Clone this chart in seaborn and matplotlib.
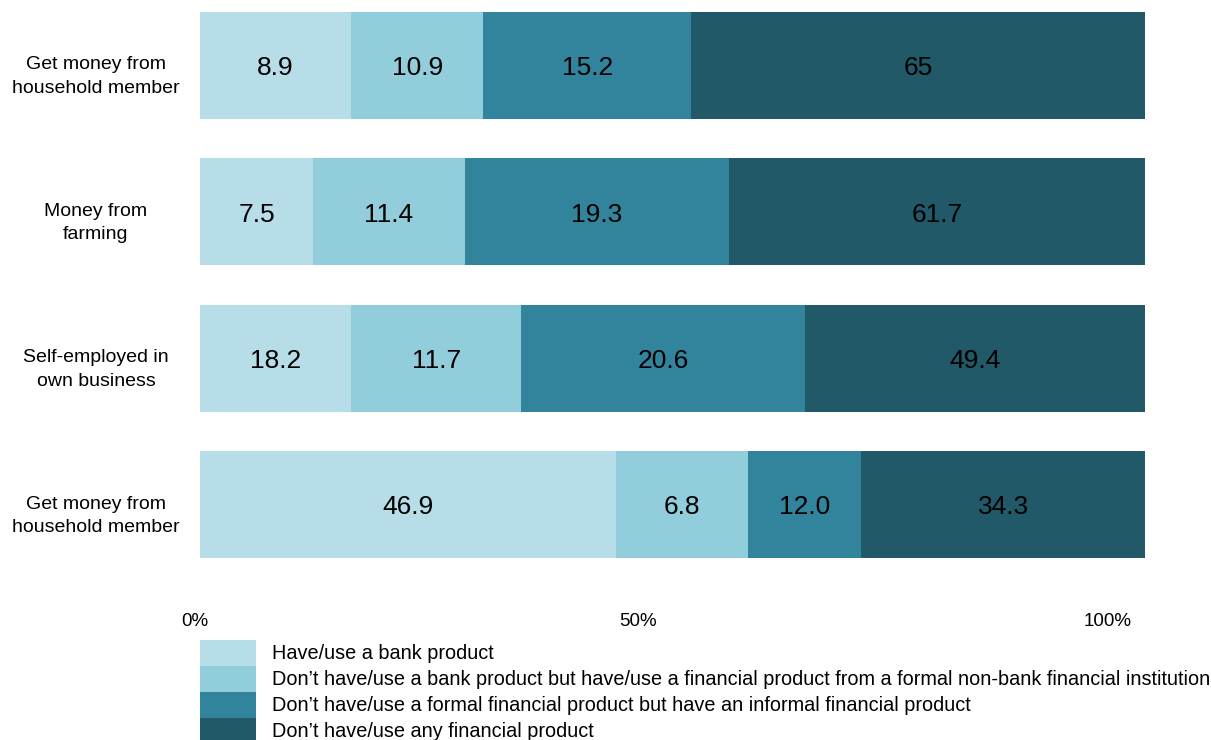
import numpy as np
import pandas as pd
import seaborn as sns
import matplotlib
matplotlib.use("Agg")
import matplotlib.pyplot as plt
from matplotlib.patches import Patch
from matplotlib.transforms import ScaledTranslation

# ---------------- data ----------------
categories = ["Get money from\nhousehold member", "Money from\nfarming",
              "Self-employed in\nown business", "Get money from\nhousehold member"]
series = ["Have/use a bank product",
          "Don\u2019t have/use a bank product but have/use a financial product from a formal non-bank financial institution",
          "Don\u2019t have/use a formal financial product but have an informal financial product",
          "Don\u2019t have/use any financial product"]

# printed labels in each segment
bank_labels = ["8.9", "7.5", "18.2", "46.9"]
nonbank_labels = ["10.9", "11.4", "11.7", "6.8"]
informal_labels = ["15.2", "19.3", "20.6", "12.0"]
none_labels = ["65", "61.7", "49.4", "34.3"]

# drawn segment lengths (share of bar, as drawn in the chart)
bank_len = [16, 12, 16, 44]
nonbank_len = [14, 16, 18, 14]
informal_len = [22, 28, 30, 12]
none_len = [48, 44, 36, 30]

tick_values = [-0.6, 46.4, 96.0]
tick_labels = ["0%", "50%", "100%"]

colors = ["#B7DEE8", "#92CDDC", "#31849B", "#215968"]

# ---------------- plot ----------------
sns.set_theme(style="white")
plt.rcParams["font.family"] = ["Liberation Sans", "DejaVu Sans"]

fig = plt.figure(figsize=(12.11, 7.40), dpi=100)
x_lo = -0.8
px_per_unit = 9.45
ax_left_px = 200 + x_lo * px_per_unit
ax = fig.add_axes([ax_left_px / 1211, 1 - 558 / 740,
                   (100 - x_lo) * px_per_unit / 1211, 546 / 740])

row_ids = [f"r{i}" for i in range(len(categories))]
lengths = np.array([bank_len, nonbank_len, informal_len, none_len], dtype=float).T
labels = np.array([bank_labels, nonbank_labels, informal_labels, none_labels]).T
cum = np.cumsum(lengths, axis=1)

for j in reversed(range(len(series))):
    df = pd.DataFrame({"row": row_ids, "end": cum[:, j]})
    sns.barplot(data=df, x="end", y="row", orient="h", order=row_ids,
                color=colors[j], saturation=1, width=0.731, linewidth=0,
                errorbar=None, ax=ax)

for i in range(len(row_ids)):
    for j in range(len(series)):
        start = cum[i, j] - lengths[i, j]
        ax.text(start + lengths[i, j] / 2, i + 0.02, labels[i, j], ha="center", va="center",
                fontsize=19, color="black")

ax.set_xlabel("")
ax.set_ylabel("")
ax.set_xticks(tick_values)
ax.set_xticklabels(tick_labels, fontsize=13.5, color="black")
ax.set_xlim(x_lo, 100)
ax.set_yticks(range(len(row_ids)))
ax.set_yticklabels(categories, fontsize=14, color="black")
ax.set_ylim(len(row_ids) - 1 + 0.3655, -0.3655)
ax.tick_params(axis="x", length=0, pad=39.5)
ax.tick_params(axis="y", length=0, pad=74.9 - (-x_lo) * px_per_unit * 0.72)
offset = ScaledTranslation(0, -6 / 100, fig.dpi_scale_trans)
for lbl in ax.get_yticklabels():
    lbl.set_ha("center")
    lbl.set_multialignment("center")
    lbl.set_linespacing(1.5)
    lbl.set_transform(lbl.get_transform() + offset)
for s in ax.spines.values():
    s.set_visible(False)
ax.grid(False)

handles = [Patch(facecolor=c, edgecolor="none", label=s) for c, s in zip(colors, series)]
fig.legend(handles=handles, loc="upper left", bbox_to_anchor=(200 / 1211, 1 - 640 / 740),
           frameon=False, borderpad=0, borderaxespad=0, labelspacing=0,
           handlelength=2.82, handleheight=1.637, handletextpad=0.8,
           fontsize=14.3, labelcolor="black")

fig.savefig("out.png", dpi=100)
